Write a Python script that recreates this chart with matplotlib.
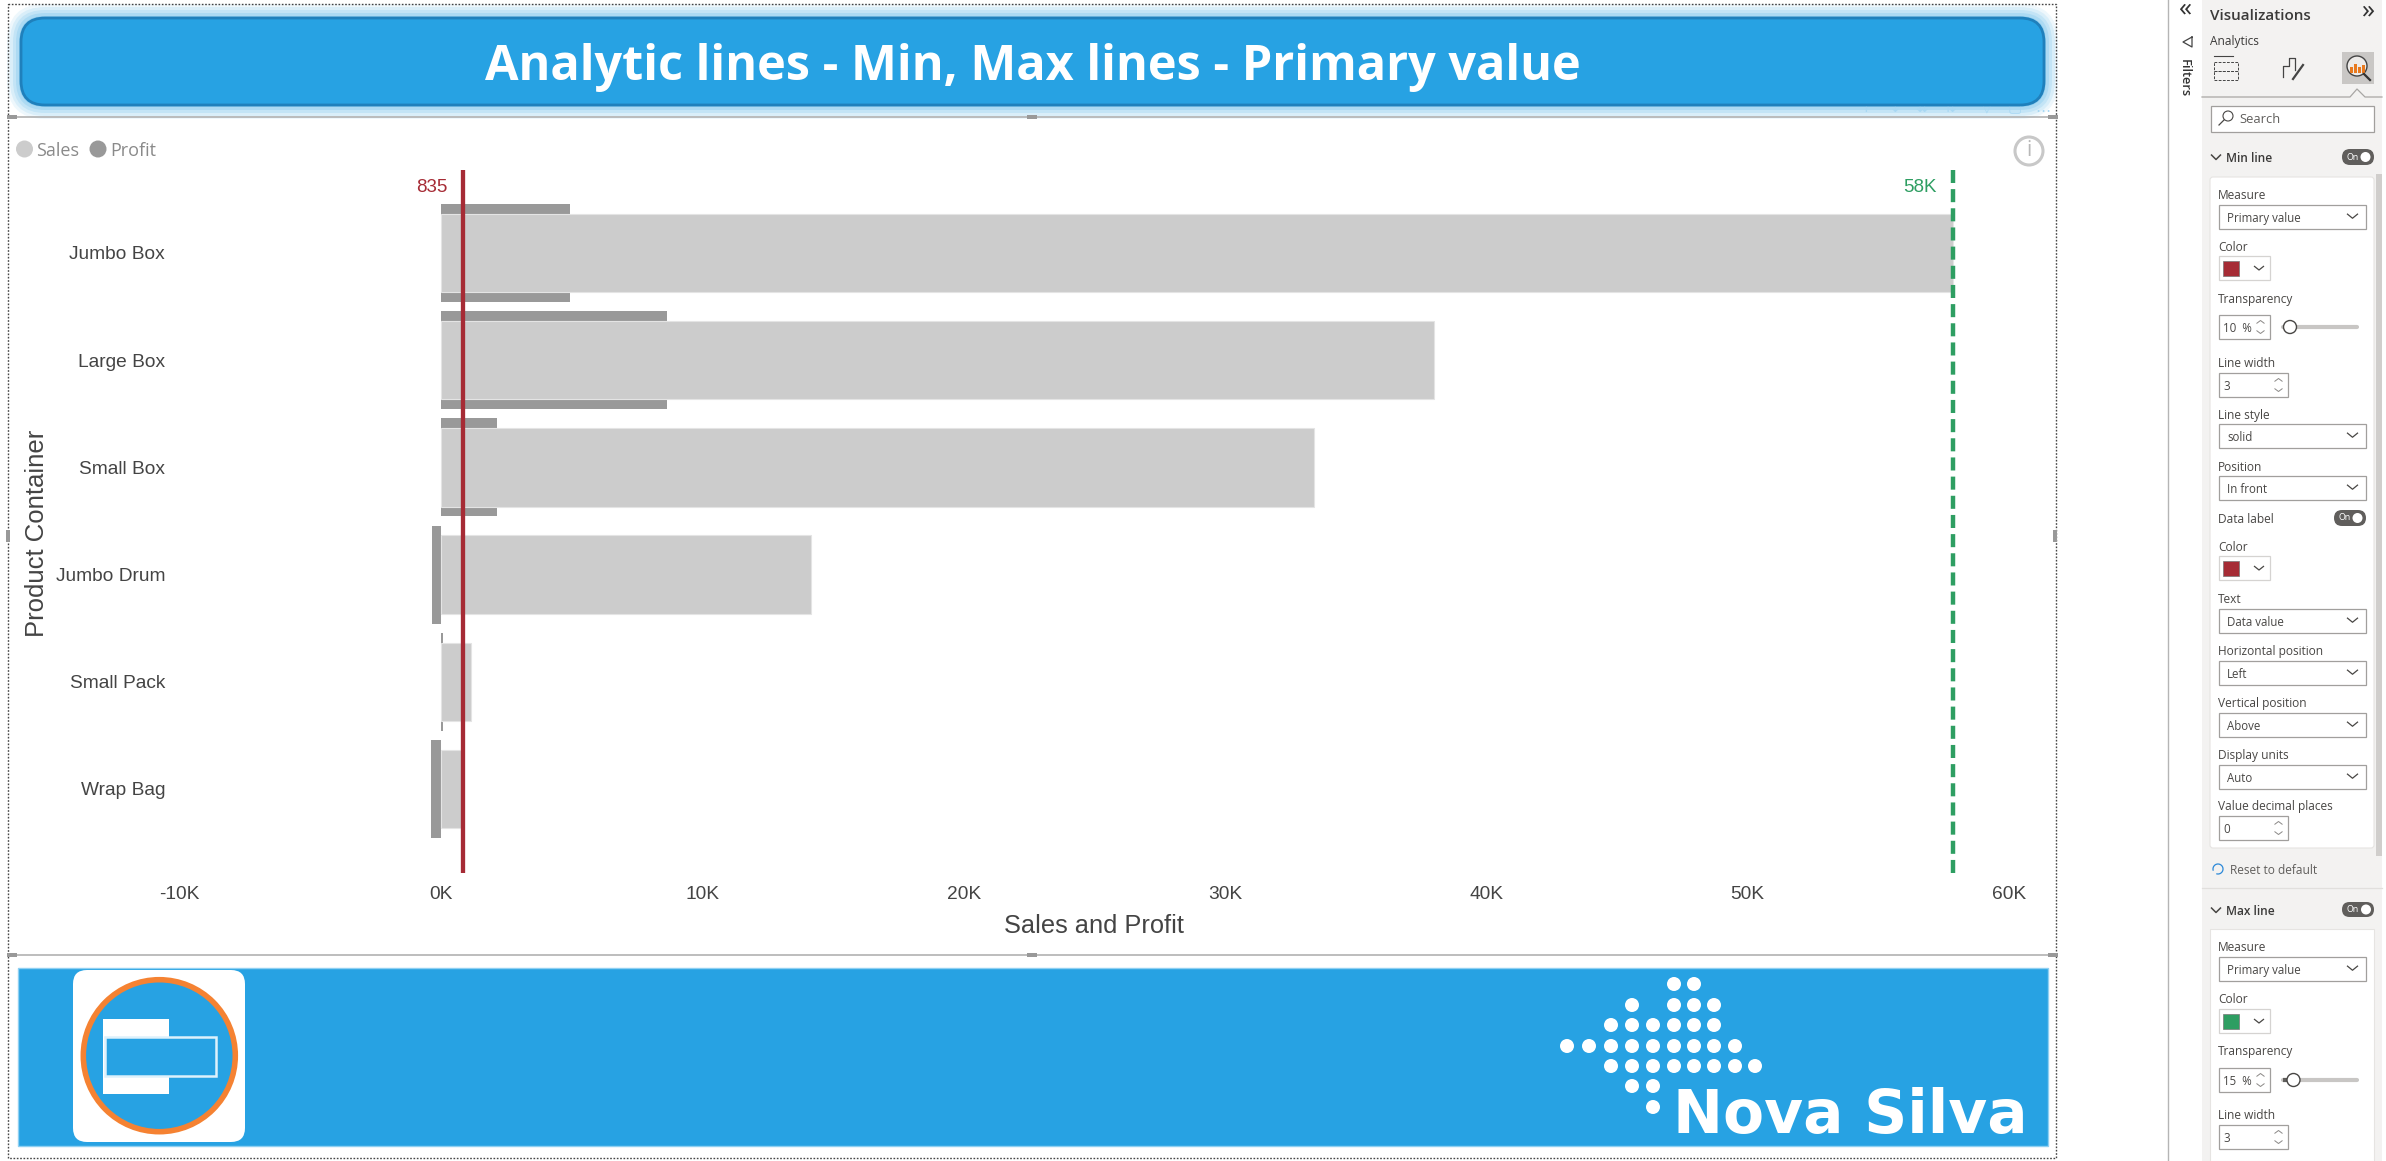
import matplotlib
matplotlib.use("Agg")
from matplotlib import pyplot as plt
from matplotlib.patches import Arc, Circle, FancyBboxPatch, Rectangle

plt.rcParams['font.family'] = ['Liberation Sans', 'DejaVu Sans']
plt.rcParams['lines.scale_dashes'] = False

containers = ["Jumbo Box", "Large Box", "Small Box", "Jumbo Drum", "Small Pack", "Wrap Bag"]
sales = [57850, 38000, 33400, 14160, 1150, 835]
profit = [4940, 8650, 2130, -330, 60, -400]
x_ticks = [-10000, 0, 10000, 20000, 30000, 40000, 50000, 60000]
x_tick_labels = ["-10K", "0K", "10K", "20K", "30K", "40K", "50K", "60K"]
min_value = min(sales)
max_value = max(sales)
min_label = "835"
max_label = "58K"

W, H = 2386, 1161
BLUE = "#27A2E3"
RED = "#A62B35"
GREEN = "#2E9E62"
TXT = "#444444"
UI = "Open Sans"

fig = plt.figure(figsize=(W/100, H/100), dpi=100, facecolor="white")

# whole page drawn in pixel coordinates underneath the chart
bg = fig.add_axes([0, 0, 1, 1])
bg.set_xlim(0, W)
bg.set_ylim(H, 0)
bg.axis("off")


def rect(x0, y0, x1, y1, fc="white", ec="none", lw=1, z=2, ax=bg):
	ax.add_patch(Rectangle((x0, y0), x1-x0, y1-y0, fc=fc, ec=ec, lw=lw, zorder=z))


def rounded(x0, y0, x1, y1, r, fc, ec="none", lw=1, alpha=None, z=2):
	bg.add_patch(FancyBboxPatch((x0+r, y0+r), x1-x0-2*r, y1-y0-2*r, boxstyle="round,pad=%f,rounding_size=%f" % (r, r),
		fc=fc, ec=ec, lw=lw, alpha=alpha, zorder=z))


def label(x, y, s, size=8.6, color="#484644", ha="left", weight="normal", z=6, rot=0):
	bg.text(x, y+1.5, s, fontsize=size, color=color, ha=ha, va="center", family=UI, weight=weight, zorder=z, rotation=rot)


def chevron(x, y, w=5, h=3, up=False, color="#484644", lw=0.9):
	d = -h if up else h
	bg.plot([x-w, x, x+w], [y-d/2, y+d/2, y-d/2], color=color, lw=lw, zorder=6, solid_capstyle="butt")


# title banner with glow
for i, a in zip([14, 11, 8, 5, 2], [0.08, 0.10, 0.12, 0.14, 0.18]):
	rounded(21-i, 18-i, 2044+i, 105+i, 24+i, BLUE, alpha=a, z=1)
for x, s in zip([1866, 1895, 1922, 1950, 1987, 2015, 2043], ["↑", "↓", "⇊", "⇅", "▽", "▢", "…"]):
	bg.text(x, 108, s, fontsize=11, color="#A9D8F3", ha="center", va="center", family="DejaVu Sans", zorder=1.5)
rounded(21, 18, 2044, 105, 24, BLUE, ec="#1F80BC", lw=2, z=3)
bg.text(1033, 68, "Analytic lines - Min, Max lines - Primary value", fontsize=35, color="white", ha="center", va="center",
	family=UI, weight="bold", zorder=4)

# visual frames and handles
for y in [117, 955]:
	bg.plot([8, 2056], [y, y], color="#ABABAB", lw=1.1, zorder=2)
bg.plot([8, 2056, 2056, 8, 8], [4, 4, 1158, 1158, 4], color="#444444", lw=1, ls=(0, (1.2, 1.2)), zorder=2)
for x, y in [(12, 117), (1032, 117), (2053, 117), (12, 955), (1032, 955), (2053, 955)]:
	rect(x-5, y-2, x+5, y+2, fc="#999999", z=3)
for x in [8, 2055]:
	rect(x-2, 530, x+2, 542, fc="#999999", z=3)

# legend
for x, s, c, tx in [(24.5, "Sales", "#CCCCCC", 36), (98, "Profit", "#999999", 110)]:
	bg.add_patch(Circle((x, 149), 8.5, fc=c, ec="none", zorder=3))
	bg.text(tx, 150.5, s, fontsize=13, color="#8A8A8A", ha="left", va="center", family=UI, zorder=3)

# info icon
bg.add_patch(Circle((2029, 151), 14, fc="white", ec="#C8C8C8", lw=2.2, zorder=3))
bg.text(2029, 151, "i", fontsize=15, color="#B8B8B8", ha="center", va="center", family=UI, zorder=4)

# footer banner
rect(18, 968, 2048, 1146, fc=BLUE, ec="#8FD0F2", lw=1)
rounded(73, 970, 245, 1142, 14, "white", z=3)
bg.add_patch(Circle((159.3, 1055.7), 76, fc=BLUE, ec="#F58232", lw=4, zorder=4))
rect(103, 1019, 169, 1094, fc="white", z=5)
rect(105, 1037, 216, 1076, fc=BLUE, ec="#DDF1FC", lw=1.8, z=6)

dot_columns = [1567, 1589, 1611, 1632, 1653, 1674, 1694, 1714, 1735, 1755]
dot_rows = [(984, [5, 6]), (1005, [3, 5, 6, 7]), (1025, [2, 3, 4, 5, 6, 7]), (1046, range(9)), (1066, range(2, 10)),
	(1086, [3, 4]), (1107, [4])]
for y, cols in dot_rows:
	for c in cols:
		bg.add_patch(Circle((dot_columns[c], y), 7, fc="white", ec="none", zorder=3))
bg.text(1850, 1116, "Nova Silva", fontsize=43, color="white", weight="bold", family="DejaVu Sans", ha="center", va="center", zorder=3)

# right hand pane
bg.plot([2168, 2168], [0, H], color="#B5B5B5", lw=1, zorder=2)
rect(2202, 0, 2382, H, fc="#F3F2F1", z=1)
label(2185, 8, "«", size=19, ha="center", color="#333333")
bg.plot([2192, 2183, 2192, 2192], [37, 42, 47, 37], color="#444444", lw=0.9, zorder=6)
label(2184, 77, "Filters", size=9.2, ha="center", color="#333333", weight="semibold", rot=270)
label(2210, 14, "Visualizations", size=11, color="#3B3A39", weight="semibold")
label(2368, 10, "»", size=19, ha="center", color="#333333")
label(2210, 40, "Analytics", size=8.6, color="#3B3A39")

# pane tab icons
for y in [62, 71]:
	rect(2214, y, 2238, y+9, fc="none", ec="#444444", lw=0.7, z=6)
	bg.patches[-1].set_linestyle((0, (2, 1)))
bg.plot([2214, 2233], [56, 56], color="#444444", lw=0.8, zorder=6)
bg.plot([2283, 2283, 2289, 2289, 2295, 2295], [77, 66, 66, 58, 58, 70], color="#444444", lw=0.9, zorder=6)
bg.plot([2303, 2293], [65, 79], color="#444444", lw=1.6, zorder=6)
rect(2342, 52, 2374, 84, fc="#C9C7C5", z=4)
bg.add_patch(Circle((2357, 66), 10, fc="#EDEBE9", ec="#444444", lw=1, zorder=5))
for x, h in zip([2350, 2354, 2358, 2362], [6, 9, 6, 8]):
	rect(x, 73-h, x+3, 73, fc="#E8791E", z=6)
bg.plot([2364, 2370], [74, 80], color="#333333", lw=1.6, zorder=6)
bg.plot([2202, 2350, 2357, 2365, 2382], [97, 97, 89, 97, 97], color="#A8A6A4", lw=0.9, zorder=5)

# search box
rect(2210.5, 105.5, 2373.5, 131.5, fc="white", ec="#A19F9D", lw=0.9, z=3)
bg.add_patch(Circle((2228, 116), 5, fc="none", ec="#484644", lw=0.8, zorder=6))
bg.plot([2224, 2219], [120, 125], color="#484644", lw=0.9, zorder=6)
label(2239, 118, "Search", size=9.3, color="#605E5C")


def toggle(x0, y0, x1, y1):
	rounded(x0, y0, x1, y1, (y1-y0)/2, "#605E5C", z=5)
	bg.add_patch(Circle((x1-(y1-y0)/2-0.5, (y0+y1)/2), 5, fc="white", ec="none", zorder=6))
	bg.text(x0+11, (y0+y1)/2, "On", fontsize=6.4, color="white", ha="center", va="center", family=UI, zorder=6)


def section(title, y, tog_y0, tog_y1):
	chevron(2216, y, 5, 5, lw=1.1)
	label(2226.5, y, title, size=8.6, color="#3B3A39", weight="semibold")
	toggle(2342, tog_y0, 2374, tog_y1)


def dropdown(title, value, lab_y, y0, y1):
	label(2218, lab_y, title)
	rect(2218.5, y0, 2365.5, y1, fc="white", ec="#A19F9D", lw=0.9, z=4)
	label(2227, (y0+y1)/2, value, size=8.3, color="#484644")
	chevron(2352.5, (y0+y1)/2-1, 5.5, 4.5, lw=0.9)


def color_pick(title, col, lab_y, y0, y1):
	label(2218, lab_y, title)
	rect(2218.5, y0, 2269.5, y1, fc="white", ec="#D5D3D1", lw=0.9, z=4)
	rect(2223, y0+4.5, 2239, y1-4.5, fc=col, ec="#777777", lw=0.5, z=5)
	chevron(2259, (y0+y1)/2, 5, 4)


def spinner(title, value, lab_y, y0, y1, x1=2287.5, lab_x=2223):
	label(2218, lab_y, title)
	rect(2218.5, y0, x1, y1, fc="white", ec="#A19F9D", lw=0.9, z=4)
	label(lab_x, (y0+y1)/2, value, size=8.3, color="#484644")
	chevron(x1-9, (y0+y1)/2-5, 4, 3, up=True, color="#8A8886", lw=0.7)
	chevron(x1-9, (y0+y1)/2+5, 4, 3, color="#8A8886", lw=0.7)


def transparency(value, knob, lab_y, y0, y1):
	spinner("Transparency", value, lab_y, y0, y1, x1=2269.5)
	bg.plot([2283, 2357], [(y0+y1)/2]*2, color="#C8C6C4", lw=3, zorder=5, solid_capstyle="round")
	bg.plot([2283, knob], [(y0+y1)/2]*2, color="#605E5C", lw=3, zorder=5, solid_capstyle="butt")
	bg.add_patch(Circle((knob, (y0+y1)/2), 6.5, fc="white", ec="#484644", lw=1, zorder=6))


# min line card
section("Min line", 157, 149, 165)
rounded(2210, 177, 2374, 848, 3, "white", ec="#E6E4E2", lw=0.8, z=3)
rect(2376, 174, 2381.5, 856, fc="#D0CECC", z=3)
dropdown("Measure", "Primary value", 194, 205, 229)
color_pick("Color", RED, 246, 256, 280)
transparency("10  %", 2290, 298, 315, 339)
spinner("Line width", "3", 362, 373, 397)
dropdown("Line style", "solid", 414, 424, 448)
dropdown("Position", "In front", 466, 476, 500)
label(2218, 518, "Data label")
toggle(2334, 510, 2366, 526)
color_pick("Color", RED, 546, 556, 580)
dropdown("Text", "Data value", 598, 609, 633)
dropdown("Horizontal position", "Left", 650, 661, 685)
dropdown("Vertical position", "Above", 702, 713, 737)
dropdown("Display units", "Auto", 754, 765, 789)
spinner("Value decimal places", "0", 805, 816, 840)
bg.add_patch(Arc((2218, 869), 10, 10, angle=0, theta1=-200, theta2=110, color="#2B88D8", lw=0.9, zorder=6))
label(2230, 869, "Reset to default", color="#605E5C")
bg.plot([2202, 2382], [888, 888], color="#E1DFDD", lw=0.9, zorder=3)

# max line card
section("Max line", 910, 902, 917)
rect(2210, 929, 2374, H, fc="white", ec="#E6E4E2", lw=0.8, z=3)
dropdown("Measure", "Primary value", 946, 957, 981)
color_pick("Color", GREEN, 998, 1009, 1033)
transparency("15  %", 2293.5, 1050, 1068, 1092)
spinner("Line width", "3", 1114, 1125, 1149)

# the chart itself
zero_px, k10_px = 441, 261.3
top_px, bottom_px = 170, 873
ax = fig.add_axes([(zero_px-k10_px)/W, 1-bottom_px/H, 7*k10_px/W, (bottom_px-top_px)/H])
ax.patch.set_alpha(0)
ypos = list(range(len(containers)))
ax.barh(ypos, profit, height=0.914, color="#999999", zorder=2)
ax.barh(ypos, sales, height=0.731, color="#CCCCCC", edgecolor="#E4E4E4", linewidth=0.8, zorder=3)
ax.axvline(min_value-60, color="#6E8080", lw=0.7, zorder=4.5)
ax.axvline(min_value, color=RED, lw=3.1, zorder=5)
ax.axvline(max_value, color=GREEN, lw=3.2, ls=(0, (9.4, 4.4)), zorder=5)
ax.set_xlim(-10000, 60000)
ax.set_ylim(5.784, -0.774)
ax.set_yticks(ypos, containers)
ax.set_xticks(x_ticks, x_tick_labels)
ax.tick_params(axis="y", length=0, pad=10.5, labelsize=13.8, labelcolor=TXT)
ax.tick_params(axis="x", length=0, pad=9.7, labelsize=13.8, labelcolor=TXT)
for s in ax.spines.values():
	s.set_visible(False)
ax.set_xlabel("Sales and Profit", fontsize=18.3, color=TXT)
ax.xaxis.set_label_coords(0.5, -0.058)
ax.set_ylabel("Product Container", fontsize=18.5, color=TXT)
ax.yaxis.set_label_coords(-0.0712, 0.4836)
ax.text(min_value-600, -0.61, min_label, color=RED, fontsize=13.5, ha="right", va="center")
ax.text(max_value-600, -0.61, max_label, color=GREEN, fontsize=13.5, ha="right", va="center")

fig.savefig("out.png", dpi=100)
